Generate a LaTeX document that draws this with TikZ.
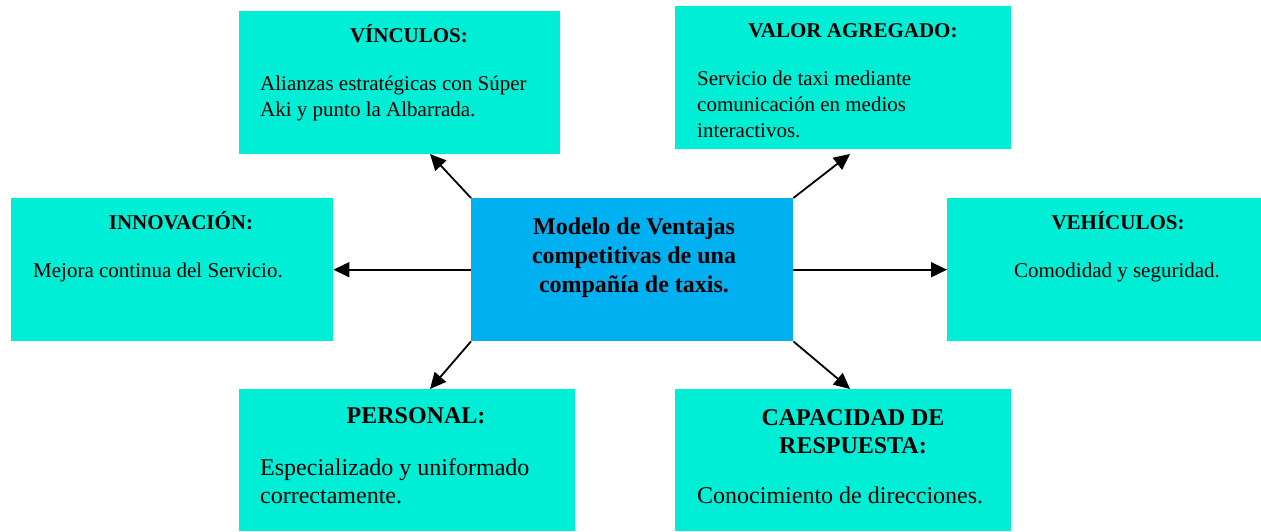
\documentclass[tikz,border=0pt]{standalone}
\usepackage{fontspec}
\setmainfont{Liberation Serif}
\usetikzlibrary{arrows.meta}
\definecolor{boxcyan}{RGB}{0,238,214}
\definecolor{boxblue}{RGB}{0,176,240}
\tikzset{
  x=1pt, y=-1pt,
  box/.style={fill=boxcyan, draw=none, inner sep=0pt, anchor=north west},
  cbox/.style={fill=boxblue, draw=none, inner sep=0pt, anchor=north west},
  ttl/.style={inner sep=0pt, anchor=base, align=center, font=\fontsize{21}{27}\selectfont\bfseries},
  bdy/.style={inner sep=0pt, anchor=base west, align=left, font=\fontsize{21}{26}\selectfont},
  ttlb/.style={inner sep=0pt, anchor=base, align=center, font=\fontsize{24}{28}\selectfont\bfseries},
  bdyb/.style={inner sep=0pt, anchor=base west, align=left, font=\fontsize{24}{28}\selectfont},
  arr/.style={line width=1.8pt, -{Triangle[length=16pt,width=15pt]}}
}
\begin{document}
\begin{tikzpicture}
\useasboundingbox (0,0) rectangle (1261,531);
% boxes
\node[box, minimum width=321pt, minimum height=143pt] (vin) at (239,11) {};
\node[box, minimum width=336pt, minimum height=143pt] (val) at (675,6) {};
\node[box, minimum width=322pt, minimum height=143pt] (inn) at (11,198) {};
\node[cbox, minimum width=322pt, minimum height=143pt] (cen) at (471,198) {};
\node[box, minimum width=314pt, minimum height=143pt] (veh) at (947,198) {};
\node[box, minimum width=336pt, minimum height=142pt] (per) at (239,389) {};
\node[box, minimum width=336pt, minimum height=142pt] (cap) at (675,389) {};
% texts (multi-line nodes: base = baseline of last line)
\node[ttl] (vint) at (409,42) {VÍNCULOS:};
\node[bdy] (vinb) at (260,116) {Alianzas estratégicas con Súper\\Aki y punto la Albarrada.};
\node[ttl] (valt) at (853,37) {VALOR AGREGADO:};
\node[bdy] (valb) at (697,137) {Servicio de taxi mediante\\comunicación en medios\\interactivos.};
\node[ttl] (innt) at (181,229) {INNOVACIÓN:};
\node[bdy] (innb) at (33,277) {Mejora continua del Servicio.};
\node[ttl] (veht) at (1118,229) {VEHÍCULOS:};
\node[bdy, anchor=base] (vehb) at (1117,277) {Comodidad y seguridad.};
\node[inner sep=0pt, anchor=base, align=center, font=\fontsize{24}{29}\selectfont\bfseries] (cent) at (634,292) {Modelo de Ventajas\\competitivas de una\\compañía de taxis.};
\node[ttlb] (pert) at (416,423) {PERSONAL:};
\node[bdyb] (perb) at (260,503) {Especializado y uniformado\\correctamente.};
\node[ttlb] (capt) at (853,453) {CAPACIDAD DE\\RESPUESTA:};
\node[bdyb] (capb) at (697,503) {Conocimiento de direcciones.};
% arrow tips
\coordinate (tvin) at (430,154);
\coordinate (tval) at (850,154);
\coordinate (tper) at (430,389);
\coordinate (tcap) at (850,389);
\draw[arr] (cen.north west) -- (tvin);
\draw[arr] (cen.north east) -- (tval);
\draw[arr] (cen.west) -- (cen.west -| inn.east);
\draw[arr] (cen.east) -- (cen.east -| veh.west);
\draw[arr] (cen.south west) -- (tper);
\draw[arr] (cen.south east) -- (tcap);
\end{tikzpicture}
\end{document}
